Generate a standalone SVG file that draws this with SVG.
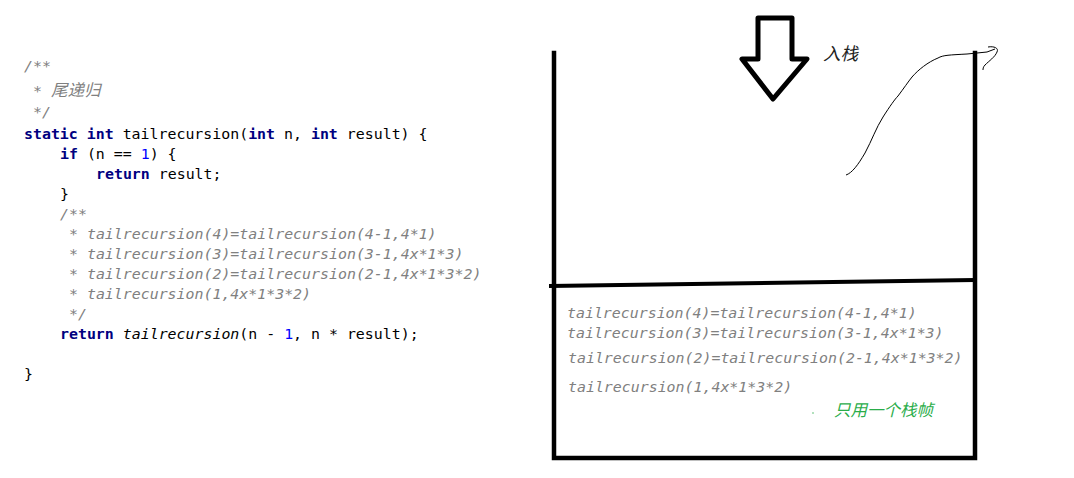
<svg xmlns="http://www.w3.org/2000/svg" width="1074" height="478" viewBox="0 0 1074 478">
<style>
.code{font-family:"DejaVu Sans Mono","Liberation Mono","Noto Sans CJK SC",monospace;font-size:14.9px;fill:#000}
.kw{fill:#000080;font-weight:bold}
.cm{fill:#808080;font-style:italic}
.num{fill:#0000ff}
.it{font-style:italic}
.wall{stroke:#000;stroke-width:4.5;fill:none;stroke-linecap:square}
.cjk{font-family:"Noto Sans CJK SC","Noto Sans",sans-serif}
</style>
<rect width="1074" height="478" fill="#fff"/>
<g id="code" class="code">
<text class="cm" x="24" y="71">/**</text>
<text class="cm" x="33" y="96">* <tspan class="cjk" font-size="16.5">尾递归</tspan></text>
<text class="cm" x="33" y="117">*/</text>
<text x="24" y="139" xml:space="preserve"><tspan class="kw">static</tspan> <tspan class="kw">int</tspan> tailrecursion(<tspan class="kw">int</tspan> n, <tspan class="kw">int</tspan> result) {</text>
<text x="60" y="159" xml:space="preserve"><tspan class="kw">if</tspan> (n == <tspan class="num">1</tspan>) {</text>
<text x="96" y="179" xml:space="preserve"><tspan class="kw">return</tspan> result;</text>
<text x="60" y="199">}</text>
<text class="cm" x="60" y="219">/**</text>
<text class="cm" x="69" y="239">* tailrecursion(4)=tailrecursion(4-1,4*1)</text>
<text class="cm" x="69" y="259">* tailrecursion(3)=tailrecursion(3-1,4x*1*3)</text>
<text class="cm" x="69" y="279">* tailrecursion(2)=tailrecursion(2-1,4x*1*3*2)</text>
<text class="cm" x="69" y="299">* tailrecursion(1,4x*1*3*2)</text>
<text class="cm" x="69" y="319">*/</text>
<text x="60" y="339" xml:space="preserve"><tspan class="kw">return</tspan> <tspan class="it">tailrecursion</tspan>(n - <tspan class="num">1</tspan>, n * result);</text>
<text x="24" y="379">}</text>
</g>
<g id="stack">
<path class="wall" d="M554,53 V458 H975 V53"/>
<path d="M549,286 L975,280" stroke="#000" stroke-width="4" fill="none"/>
</g>
<g id="frame" class="code">
<text class="cm" x="567" y="318">tailrecursion(4)=tailrecursion(4-1,4*1)</text>
<text class="cm" x="567" y="338">tailrecursion(3)=tailrecursion(3-1,4x*1*3)</text>
<text class="cm" x="568" y="363">tailrecursion(2)=tailrecursion(2-1,4x*1*3*2)</text>
<text class="cm" x="568" y="392">tailrecursion(1,4x*1*3*2)</text>
<text class="cjk" x="834" y="416" font-size="16.5" fill="#2aad4a" font-style="italic">只用一个栈帧</text>
<circle cx="813" cy="413" r="0.7" fill="#2aad4a"/>
</g>
<g id="push-label">
<text class="cjk" x="823" y="60" font-size="17.5" fill="#222" font-style="italic">入栈</text>
</g>
<g id="connectors">
<path id="push-arrow" d="M758,18 L792,18 L792,59 L807,59 L773,99 L742,59 L758,59 Z" fill="#fff" stroke="#000" stroke-width="5" stroke-linejoin="round"/>
<path id="pop-curve" d="M846,175 C852,173 858,165 865,153 C872,140 876,128 883,117 C890,106 895,99 898,96 C904,88 908,82 912,77 C918,70 928,62 938,58 C943,55 950,55 967,54 L987,52 L995,49 M988,47 C994,46 999,48 997,52 C995,57 989,61 985,65 C983,67 983,69 983,70" fill="none" stroke="#000" stroke-width="1"/>
</g>
</svg>
